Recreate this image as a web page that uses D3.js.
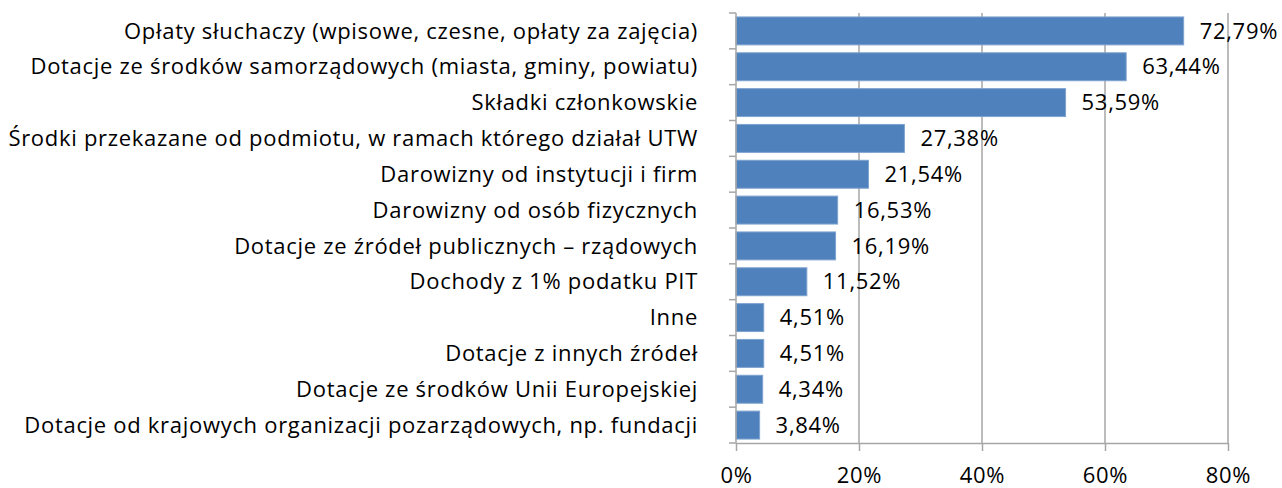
<!DOCTYPE html>
<html>
<head>
<meta charset="utf-8">
<script src="https://cdn.jsdelivr.net/npm/d3@7"></script>
<style>
  body { margin: 0; background: #fff; }
  text { font-family: "Open Sans", Lato, sans-serif; fill: #000; letter-spacing: 0.7px; }
</style>
</head>
<body>
<div id="chart"></div>
<script>
const categories = [
  "Opłaty słuchaczy (wpisowe, czesne, opłaty za zajęcia)",
  "Dotacje ze środków samorządowych (miasta, gminy, powiatu)",
  "Składki członkowskie",
  "Środki przekazane od podmiotu, w ramach którego działał UTW",
  "Darowizny od instytucji i firm",
  "Darowizny od osób fizycznych",
  "Dotacje ze źródeł publicznych – rządowych",
  "Dochody z 1% podatku PIT",
  "Inne",
  "Dotacje z innych źródeł",
  "Dotacje ze środków Unii Europejskiej",
  "Dotacje od krajowych organizacji pozarządowych, np. fundacji"
];
const values = [72.79, 63.44, 53.59, 27.38, 21.54, 16.53, 16.19, 11.52, 4.51, 4.51, 4.34, 3.84];
const xTicks = [0, 20, 40, 60, 80];

const W = 1282, H = 488;
const margin = {top: 13, right: 54, bottom: 45, left: 736};
const width = W - margin.left - margin.right;
const height = H - margin.top - margin.bottom;
const fontSize = "22px";

const svg = d3.select("#chart").append("svg")
  .attr("width", W)
  .attr("height", H)
  .append("g")
  .attr("transform", `translate(${margin.left},${margin.top})`);

const x = d3.scaleLinear().domain([0, 80]).range([0, width]);
const y = d3.scaleBand().domain(categories).range([0, height]).paddingInner(0.22).paddingOuter(0.11);

const fmt = v => v.toFixed(2).replace(".", ",") + "%";
const gridColor = "#a6a6a6";

// vertical grid lines
svg.append("g")
  .selectAll("line")
  .data(xTicks.slice(1))
  .join("line")
  .attr("x1", d => x(d)).attr("x2", d => x(d))
  .attr("y1", 0).attr("y2", height)
  .attr("stroke", gridColor)
  .attr("stroke-width", 1.5);

// bars
svg.append("g")
  .selectAll("rect")
  .data(values)
  .join("rect")
  .attr("x", x(0))
  .attr("y", (d, i) => y(categories[i]))
  .attr("width", d => x(d) - x(0))
  .attr("height", y.bandwidth())
  .attr("fill", "#4f81bd")
  .attr("stroke", "#7fa3cf")
  .attr("stroke-width", 1);

// value labels
svg.append("g")
  .selectAll("text")
  .data(values)
  .join("text")
  .attr("x", d => x(d) + 16)
  .attr("y", (d, i) => y(categories[i]) + y.bandwidth() / 2)
  .attr("dy", "0.35em")
  .style("font-size", fontSize)
  .text(fmt);

// x axis
const xAxis = svg.append("g")
  .attr("transform", `translate(0,${height})`)
  .call(d3.axisBottom(x).tickValues(xTicks).tickFormat(d => d + "%").tickSize(8).tickSizeOuter(0).tickPadding(16));
xAxis.select(".domain").attr("stroke", gridColor).attr("stroke-width", 1.5);
xAxis.selectAll(".tick line").attr("stroke", gridColor).attr("stroke-width", 1.5);
xAxis.selectAll(".tick text").style("font-size", fontSize).attr("fill", "#000");

// y axis
const yTicks = d3.range(categories.length + 1).map(i => i * height / categories.length);
svg.append("line")
  .attr("x1", 0).attr("x2", 0).attr("y1", 0).attr("y2", height)
  .attr("stroke", gridColor).attr("stroke-width", 1.5);
svg.append("g")
  .selectAll("line")
  .data(yTicks)
  .join("line")
  .attr("x1", -7).attr("x2", 0)
  .attr("y1", d => d).attr("y2", d => d)
  .attr("stroke", gridColor).attr("stroke-width", 1.5);

// category labels
svg.append("g")
  .selectAll("text")
  .data(categories)
  .join("text")
  .attr("x", -38)
  .attr("y", d => y(d) + y.bandwidth() / 2)
  .attr("dy", "0.35em")
  .attr("text-anchor", "end")
  .style("font-size", fontSize)
  .text(d => d);
</script>
</body>
</html>
